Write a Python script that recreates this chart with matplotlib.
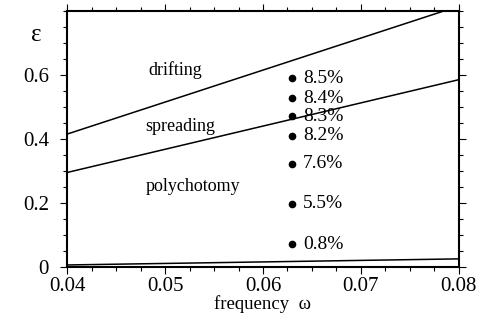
import matplotlib
matplotlib.use("Agg")
import matplotlib.pyplot as plt
from matplotlib.ticker import MultipleLocator

plt.rcParams['font.family'] = ['Liberation Serif', 'DejaVu Serif']

# boundary lines (frequency -> epsilon)
omega_ends = [0.04, 0.08]
drift_line = [0.415, 0.815]
spread_line = [0.295, 0.585]
bottom_line = [0.006, 0.025]

# measured points
pt_omega = 0.063
pt_eps = [0.589, 0.527, 0.471, 0.409, 0.322, 0.197, 0.071]
pt_labels = ["8.5%", "8.4%", "8.3%", "8.2%", "7.6%", "5.5%", "0.8%"]

region_names = ["drifting", "spreading", "polychotomy"]
region_pos = [(0.0510, 0.615), (0.0516, 0.44), (0.0528, 0.25)]

fig = plt.figure(figsize=(4.83, 3.2), dpi=100)
ax = fig.add_axes([0.139, 0.166, 0.811, 0.800])

for line in (drift_line, spread_line, bottom_line):
    ax.plot(omega_ends, line, color='black', linewidth=1.1)

ax.plot([pt_omega] * len(pt_eps), pt_eps, 'o', color='black', markersize=4.5)
for e, lab in zip(pt_eps, pt_labels):
    ax.text(pt_omega + 0.0011, e, lab, fontsize=14, va='center', ha='left')

for name, (x, y) in zip(region_names, region_pos):
    ax.text(x, y, name, fontsize=13, ha='center', va='center')

ax.set_xlim(0.04, 0.08)
ax.set_ylim(0, 0.8)
ax.set_xticks([0.04, 0.05, 0.06, 0.07, 0.08])
ax.set_xticklabels(["0.04", "0.05", "0.06", "0.07", "0.08"])
ax.set_yticks([0, 0.2, 0.4, 0.6])
ax.set_yticklabels(["0", "0.2", "0.4", "0.6"])
ax.xaxis.set_minor_locator(MultipleLocator(0.0025))
ax.yaxis.set_minor_locator(MultipleLocator(0.05))
ax.tick_params(which='both', direction='out', top=True, right=True,
               labelsize=15, width=0.8, color='black')
ax.tick_params(which='major', length=5)
ax.tick_params(which='minor', length=3)
ax.tick_params(axis='x', which='major', pad=2)
ax.tick_params(axis='y', which='major', pad=8)
for s in ax.spines.values():
    s.set_linewidth(1.5)

ax.set_xlabel("frequency  ω", fontsize=13.5, labelpad=0)
fig.text(0.075, 0.89, "ε", fontsize=18, ha='center', va='center')

fig.savefig("out.png", dpi=100)
